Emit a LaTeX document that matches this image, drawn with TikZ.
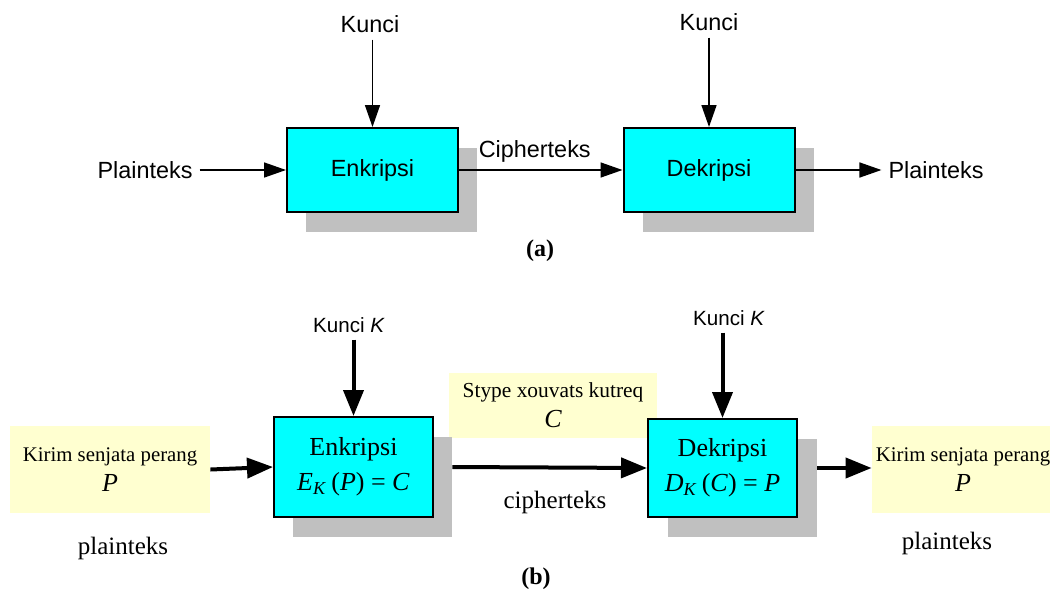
\documentclass[tikz,border=0pt]{standalone}
\usepackage{fontspec}
\setmainfont{Liberation Serif}
\setsansfont{Liberation Sans}
\usetikzlibrary{arrows.meta}

\definecolor{bayangan}{RGB}{192,192,192}
\definecolor{kuning}{RGB}{255,255,208}
\definecolor{toska}{RGB}{0,255,255}

\tikzset{
    blok/.style={draw, line width=1pt, fill=toska, inner sep=0pt},
    bayang/.style={fill=bayangan, inner sep=0pt},
    kertas/.style={fill=kuning, inner sep=0pt, align=center},
    teksA/.style={font=\sffamily\fontsize{11.7}{14}\selectfont},
    teksB/.style={font=\fontsize{12.5}{15}\selectfont},
    panahA/.style={-{Triangle[length=11pt,width=7.5pt]}, line width=0.8pt},
    panahB/.style={-{Triangle[length=13pt,width=10pt]}, line width=2pt},
}

\begin{document}
\begin{tikzpicture}[x=0.5pt,y=-0.5pt]
    \useasboundingbox (0,0) rectangle (1050,595);
    \clip (0,0) rectangle (1050,595);

    % (a)
    \node[bayang, minimum width=85.5pt, minimum height=42pt] (encAs) at (391.5,190) {};
    \node[bayang, minimum width=85.5pt, minimum height=42pt] (decAs) at (728,190) {};
    \node[blok, teksA, minimum width=85.5pt, minimum height=42pt] (encA) at (372.5,170) {Enkripsi};
    \node[blok, teksA, minimum width=85.5pt, minimum height=42pt] (decA) at (709,170) {Dekripsi};

    \node[teksA] (keyA1) at (370,24) {Kunci};
    \node[teksA] (keyA2) at (709,22) {Kunci};
    \node[teksA] (plainA1) at (145,170) {Plainteks};
    \node[teksA] (plainA2) at (936,170) {Plainteks};

    \draw[panahA] (keyA1.south -| encA) -- (encA.north);
    \draw[panahA] (keyA2.south -| decA) -- (decA.north);
    \draw[panahA] (plainA1) -- (encA);
    \draw[panahA] (encA) -- (decA) node[midway, above, teksA, xshift=-3pt] {Cipherteks};
    \draw[panahA] (decA) -- (plainA2);

    \node[font=\bfseries\fontsize{12}{14}\selectfont] (labA) at (540,251) {(a)};

    % (b)
    \node[kertas, minimum width=100pt, minimum height=43.5pt] (inB) at (110,469.5)
        {\fontsize{10.4}{15}\selectfont Kirim senjata perang\\[3pt]{\fontsize{13}{15}\selectfont\itshape P}};
    \node[kertas, minimum width=104pt, minimum height=32.5pt] (ciphB) at (553,405.5)
        {\fontsize{10.7}{17}\selectfont Stype xouvats kutreq\\[3pt]{\fontsize{13}{17}\selectfont\itshape C}};
    \node[kertas, minimum width=91pt, minimum height=43.5pt] (outB) at (963,469.5)
        {\fontsize{10.4}{15}\selectfont Kirim senjata perang\\[3pt]{\fontsize{13}{15}\selectfont\itshape P}};

    \node[bayang, minimum width=79.5pt, minimum height=50pt] (encBs) at (372.5,487) {};
    \node[bayang, minimum width=74.5pt, minimum height=49pt] (decBs) at (742.5,488) {};
    \node[blok, align=center, font=\fontsize{13}{17.5}\selectfont,
        minimum width=79.5pt, minimum height=50pt] (encB) at (353.5,467)
        {Enkripsi\\\textit{E}\textsubscript{\textit{K}}\,(\textit{P}) = \textit{C}};
    \node[blok, align=center, font=\fontsize{13}{17.5}\selectfont,
        minimum width=74.5pt, minimum height=49pt] (decB) at (722.5,468)
        {Dekripsi\\\textit{D}\textsubscript{\textit{K}}\,(\textit{C}) = \textit{P}};

    \node[font=\sffamily\fontsize{10.3}{12}\selectfont] (keyB1) at (349,325) {Kunci \textit{K}};
    \node[font=\sffamily\fontsize{10.3}{12}\selectfont] (keyB2) at (729,318) {Kunci \textit{K}};

    \draw[panahB] (keyB1.south -| encB) -- (encB.north);
    \draw[panahB] (keyB2.south -| decB) -- (decB.north);
    \draw[panahB] (inB.east) -- (encB.west);
    \draw[panahB] (encBs.east |- encB.east) -- (decB.west);
    \draw[panahB] (decBs.east |- decB.east) -- (outB.west |- decB.east);

    \node[teksB] (ciphLab) at (555,502) {cipherteks};
    \node[teksB] (plainB1) at (123,548) {plainteks};
    \node[teksB] (plainB2) at (947,543) {plainteks};
    \node[font=\bfseries\fontsize{12}{14}\selectfont] (labB) at (536,579) {(b)};
\end{tikzpicture}
\end{document}
